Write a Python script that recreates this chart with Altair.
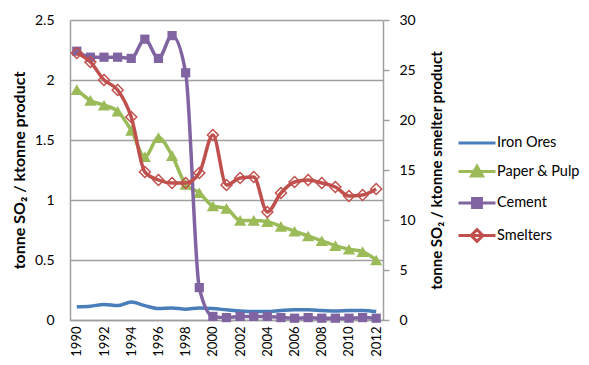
import altair as alt
import pandas as pd

years = [str(y) for y in range(1990, 2013)]
series_names = ["Iron Ores", "Paper & Pulp", "Cement", "Smelters"]
colors = ["#4a7ebb", "#9bbb59", "#8064a2", "#c0504d"]
fills = ["#4a7ebb", "#9bbb59", "#8064a2", "transparent"]

iron = [0.11, 0.115, 0.13, 0.12, 0.15, 0.12, 0.095, 0.10, 0.09, 0.10, 0.095, 0.085,
        0.075, 0.07, 0.07, 0.08, 0.085, 0.085, 0.08, 0.075, 0.08, 0.08, 0.07]
paper = [1.92, 1.83, 1.79, 1.74, 1.58, 1.36, 1.52, 1.37, 1.13, 1.06, 0.95, 0.93,
         0.83, 0.83, 0.82, 0.78, 0.74, 0.70, 0.66, 0.62, 0.59, 0.57, 0.50]
cement = [2.24, 2.19, 2.19, 2.19, 2.18, 2.34, 2.18, 2.37, 2.06, 0.27, 0.03, 0.02,
          0.03, 0.03, 0.03, 0.02, 0.015, 0.02, 0.015, 0.015, 0.015, 0.02, 0.015]
smelters = [26.7, 25.8, 24.0, 23.0, 20.3, 14.8, 14.0, 13.7, 13.7, 14.7, 18.5, 13.5,
            14.2, 14.3, 10.8, 12.7, 13.8, 14.0, 13.7, 13.3, 12.4, 12.5, 13.1]

left_ticks = [0, 0.5, 1, 1.5, 2, 2.5]
right_ticks = [0, 5, 10, 15, 20, 25, 30]
year_labels = years[::2]

# legend symbols: line with marker (unit-box paths)
legend_paths = [
    "M-2.5,0H2.5",
    "M-2.5,0H2.5M0,-0.7L0.75,0.6H-0.75Z",
    "M-2.5,0H2.5M-0.6,-0.6H0.6V0.6H-0.6Z",
    "M-2.5,0H2.5M0,-0.8L0.8,0L0,0.8L-0.8,0Z",
]

rows = []
for name, vals in zip(series_names, [iron, paper, cement, smelters]):
    for y, v in zip(years, vals):
        rows.append({"year": y, "series": name, "value": v})
df = pd.DataFrame(rows)

GRAY = "#a0a0a0"
FONT = "Lato"

x_enc = alt.X(
    "year:O",
    scale=alt.Scale(type="point", padding=0.5, domain=years),
    axis=alt.Axis(
        title=None, values=year_labels, labelAngle=270, ticks=False,
        labelPadding=6, domainColor=GRAY, domainWidth=1.5,
        labelFontSize=13, labelColor="#000000",
    ),
)

LEG = alt.Legend(title=None)
stroke_enc = alt.Stroke(
    "series:N", scale=alt.Scale(domain=series_names, range=colors), legend=LEG
)
fill_enc = alt.Fill(
    "series:N", scale=alt.Scale(domain=series_names, range=fills), legend=LEG
)
shape_enc = alt.Shape(
    "series:N", scale=alt.Scale(domain=series_names, range=legend_paths), legend=LEG
)

y_left = alt.Y(
    "value:Q",
    scale=alt.Scale(domain=[0, 2.5], nice=False, zero=True),
    axis=alt.Axis(
        orient="left", values=left_ticks, format=".1~f", grid=True,
        gridColor=GRAY, gridWidth=1.5, ticks=False, labelPadding=16,
        domainColor=GRAY, domainWidth=1.5, labelFontSize=14, labelColor="#000000",
        title="tonne SO₂ / ktonne product", titleFontSize=16, titleFontWeight="bold",
        titleAngle=270, titleX=-51, titleY=150, titleAlign="center",
        titleBaseline="middle", titleColor="#000000",
    ),
)
y_right = alt.Y(
    "value:Q",
    scale=alt.Scale(domain=[0, 30], nice=False, zero=True),
    axis=alt.Axis(
        orient="right", values=right_ticks, format="d", grid=False,
        ticks=True, tickSize=6, tickColor=GRAY, tickWidth=1.5, labelPadding=10,
        domainColor=GRAY, domainWidth=1.5, labelFontSize=14, labelColor="#000000",
        title="tonne SO₂ / ktonne smelter product", titleFontSize=15,
        titleFontWeight="bold", titleAngle=270, titleX=53, titleY=150,
        titleAlign="center", titleBaseline="middle", titleColor="#000000",
    ),
)

base = alt.Chart(df)


def line(name, y):
    return base.transform_filter(alt.datum.series == name).mark_line(
        strokeWidth=3.5, interpolate="monotone"
    ).encode(x=x_enc, y=y, stroke=stroke_enc)


def pts(name, y, shape, size, filled, sw):
    return base.transform_filter(alt.datum.series == name).mark_point(
        shape=shape, size=size, filled=filled, opacity=1, strokeWidth=sw
    ).encode(x=x_enc, y=y, stroke=stroke_enc, fill=fill_enc)


legend_layer = base.transform_filter("false").mark_point(
    filled=True, opacity=1, strokeWidth=3
).encode(shape=shape_enc, stroke=stroke_enc, fill=fill_enc)

left = alt.layer(
    line("Iron Ores", y_left),
    line("Paper & Pulp", y_left),
    pts("Paper & Pulp", y_left, "triangle-up", 150, True, 0),
    line("Cement", y_left),
    pts("Cement", y_left, "square", 85, True, 0),
    legend_layer,
)
right = alt.layer(
    line("Smelters", y_right),
    pts("Smelters", y_right, "diamond", 120, False, 1.5),
)

chart = alt.layer(left, right).resolve_scale(y="independent").properties(
    width=313, height=300,
    autosize=alt.AutoSizeParams(type="none"),
    padding={"left": 62, "top": 12, "right": 198, "bottom": 37},
).configure(font=FONT).configure_view(stroke=None).configure_legend(
    orient="none", legendX=398, legendY=114, symbolSize=219,
    symbolStrokeWidth=3, labelOffset=11, rowPadding=9.5, padding=0,
    labelFontSize=14.5, labelColor="#000000", symbolOpacity=1,
)

chart.save("out.html", embed_options={"renderer": "svg", "actions": False})
